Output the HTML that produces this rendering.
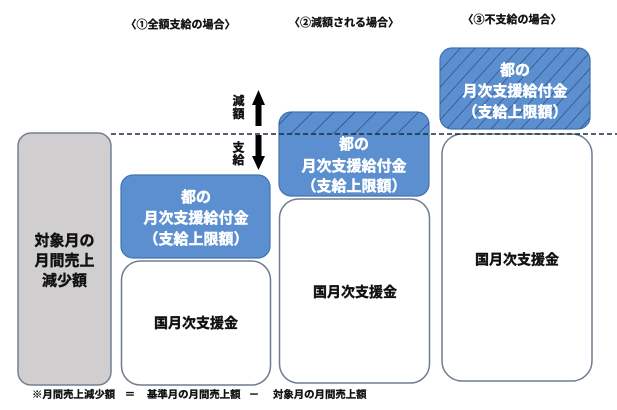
<!DOCTYPE html>
<html>
<head>
<meta charset="utf-8">
<style>
  html,body{margin:0;padding:0;background:#fff;}
  svg{display:block;}
  text{font-family:"Liberation Sans","Noto Sans CJK JP",sans-serif;font-weight:bold;}
  .w{fill:#fff;font-size:15px;stroke:#fff;stroke-width:0.45px;}
  .k{fill:#111;stroke:#111;stroke-width:0.4px;}
  .s{stroke-width:0.3px;}
</style>
</head>
<body>
<svg width="617" height="410" viewBox="0 0 617 410" xmlns="http://www.w3.org/2000/svg">
  <defs>
    <pattern id="h2" patternUnits="userSpaceOnUse" width="15" height="15" patternTransform="rotate(45)">
      <line x1="0" y1="0" x2="0" y2="15" stroke="#1f3b6a" stroke-width="1.2"/>
    </pattern>
    <pattern id="h3" patternUnits="userSpaceOnUse" width="11" height="11" patternTransform="rotate(42)">
      <line x1="0" y1="0" x2="0" y2="11" stroke="#1f3b6a" stroke-width="1.1"/>
    </pattern>
    <clipPath id="top2"><rect x="270" y="100" width="170" height="34"/></clipPath>
  </defs>

  <!-- titles -->
  <text x="180.5" y="28" font-size="11" text-anchor="middle" class="k s">〈①全額支給の場合〉</text>
  <text x="344" y="26" font-size="11" text-anchor="middle" class="k s">〈②減額される場合〉</text>
  <text x="512" y="23" font-size="11" text-anchor="middle" class="k s">〈③不支給の場合〉</text>

  <!-- gray box -->
  <rect x="18" y="133" width="93" height="252" rx="13" fill="#D0CECE" stroke="#73808f" stroke-width="1.5"/>
  <text x="64.5" y="245.5" font-size="15" text-anchor="middle" class="k">対象月の</text>
  <text x="64.5" y="265.5" font-size="15" text-anchor="middle" class="k">月間売上</text>
  <text x="64.5" y="285.5" font-size="15" text-anchor="middle" class="k">減少額</text>

  <!-- box 1 -->
  <rect x="121" y="175" width="149" height="83" rx="12" fill="#5B8FD0" stroke="#4272B0" stroke-width="1.2"/>
  <text x="196" y="202" text-anchor="middle" class="w">都の</text>
  <text x="196" y="223" text-anchor="middle" class="w">月次支援給付金</text>
  <text x="196" y="244" text-anchor="middle" class="w">（支給上限額）</text>
  <rect x="121.5" y="261" width="149" height="124" rx="19" fill="#fff" stroke="#6E7C91" stroke-width="1.5"/>
  <text x="196" y="328" font-size="14" text-anchor="middle" class="k">国月次支援金</text>

  <!-- box 2 -->
  <rect x="279" y="112" width="150" height="84" rx="12" fill="#5B8FD0" stroke="#4272B0" stroke-width="1.2"/>
  <rect x="279" y="112" width="150" height="84" rx="12" fill="url(#h2)" clip-path="url(#top2)"/>
  <text x="354" y="149" text-anchor="middle" class="w">都の</text>
  <text x="354" y="171" text-anchor="middle" class="w">月次支援給付金</text>
  <text x="354" y="191" text-anchor="middle" class="w">（支給上限額）</text>
  <rect x="279.5" y="199" width="150" height="184" rx="19" fill="#fff" stroke="#6E7C91" stroke-width="1.5"/>
  <text x="355" y="297" font-size="14" text-anchor="middle" class="k">国月次支援金</text>

  <!-- box 3 -->
  <rect x="440" y="48" width="150" height="81" rx="12" fill="#5B8FD0" stroke="#4272B0" stroke-width="1.2"/>
  <rect x="440" y="48" width="150" height="81" rx="12" fill="url(#h3)"/>
  <text x="515" y="75" text-anchor="middle" class="w">都の</text>
  <text x="515" y="96" text-anchor="middle" class="w">月次支援給付金</text>
  <text x="515" y="117" text-anchor="middle" class="w">（支給上限額）</text>
  <rect x="442" y="134" width="150" height="247" rx="20" fill="#fff" stroke="#6E7C91" stroke-width="1.5"/>
  <text x="517" y="264.5" font-size="14" text-anchor="middle" class="k">国月次支援金</text>

  <!-- dashed line -->
  <line x1="111" y1="134" x2="617" y2="134" stroke="#1b2a44" stroke-width="1.6" stroke-dasharray="5,3"/>

  <!-- arrows -->
  <polygon points="258.5,90 265,105 261.5,105 261.5,126 255.5,126 255.5,105 252,105" fill="#000"/>
  <polygon points="255.5,135 261.5,135 261.5,156 265,156 258.5,170 252,156 255.5,156" fill="#000"/>
  <text x="238.5" y="105" font-size="12" text-anchor="middle" class="k">減</text>
  <text x="238.5" y="118" font-size="12" text-anchor="middle" class="k">額</text>
  <text x="238.5" y="151.5" font-size="12" text-anchor="middle" class="k">支</text>
  <text x="238.5" y="164" font-size="12" text-anchor="middle" class="k">給</text>

  <!-- footnote -->
  <text x="32" y="398" font-size="10.4" class="k s">※月間売上減少額</text>
  <text x="130" y="398" font-size="10.4" text-anchor="middle" class="k s">＝</text>
  <text x="147" y="398" font-size="10.4" class="k s">基準月の月間売上額</text>
  <text x="254" y="398" font-size="10.4" text-anchor="middle" class="k s">－</text>
  <text x="273" y="398" font-size="10.4" class="k s">対象月の月間売上額</text>
</svg>
</body>
</html>
